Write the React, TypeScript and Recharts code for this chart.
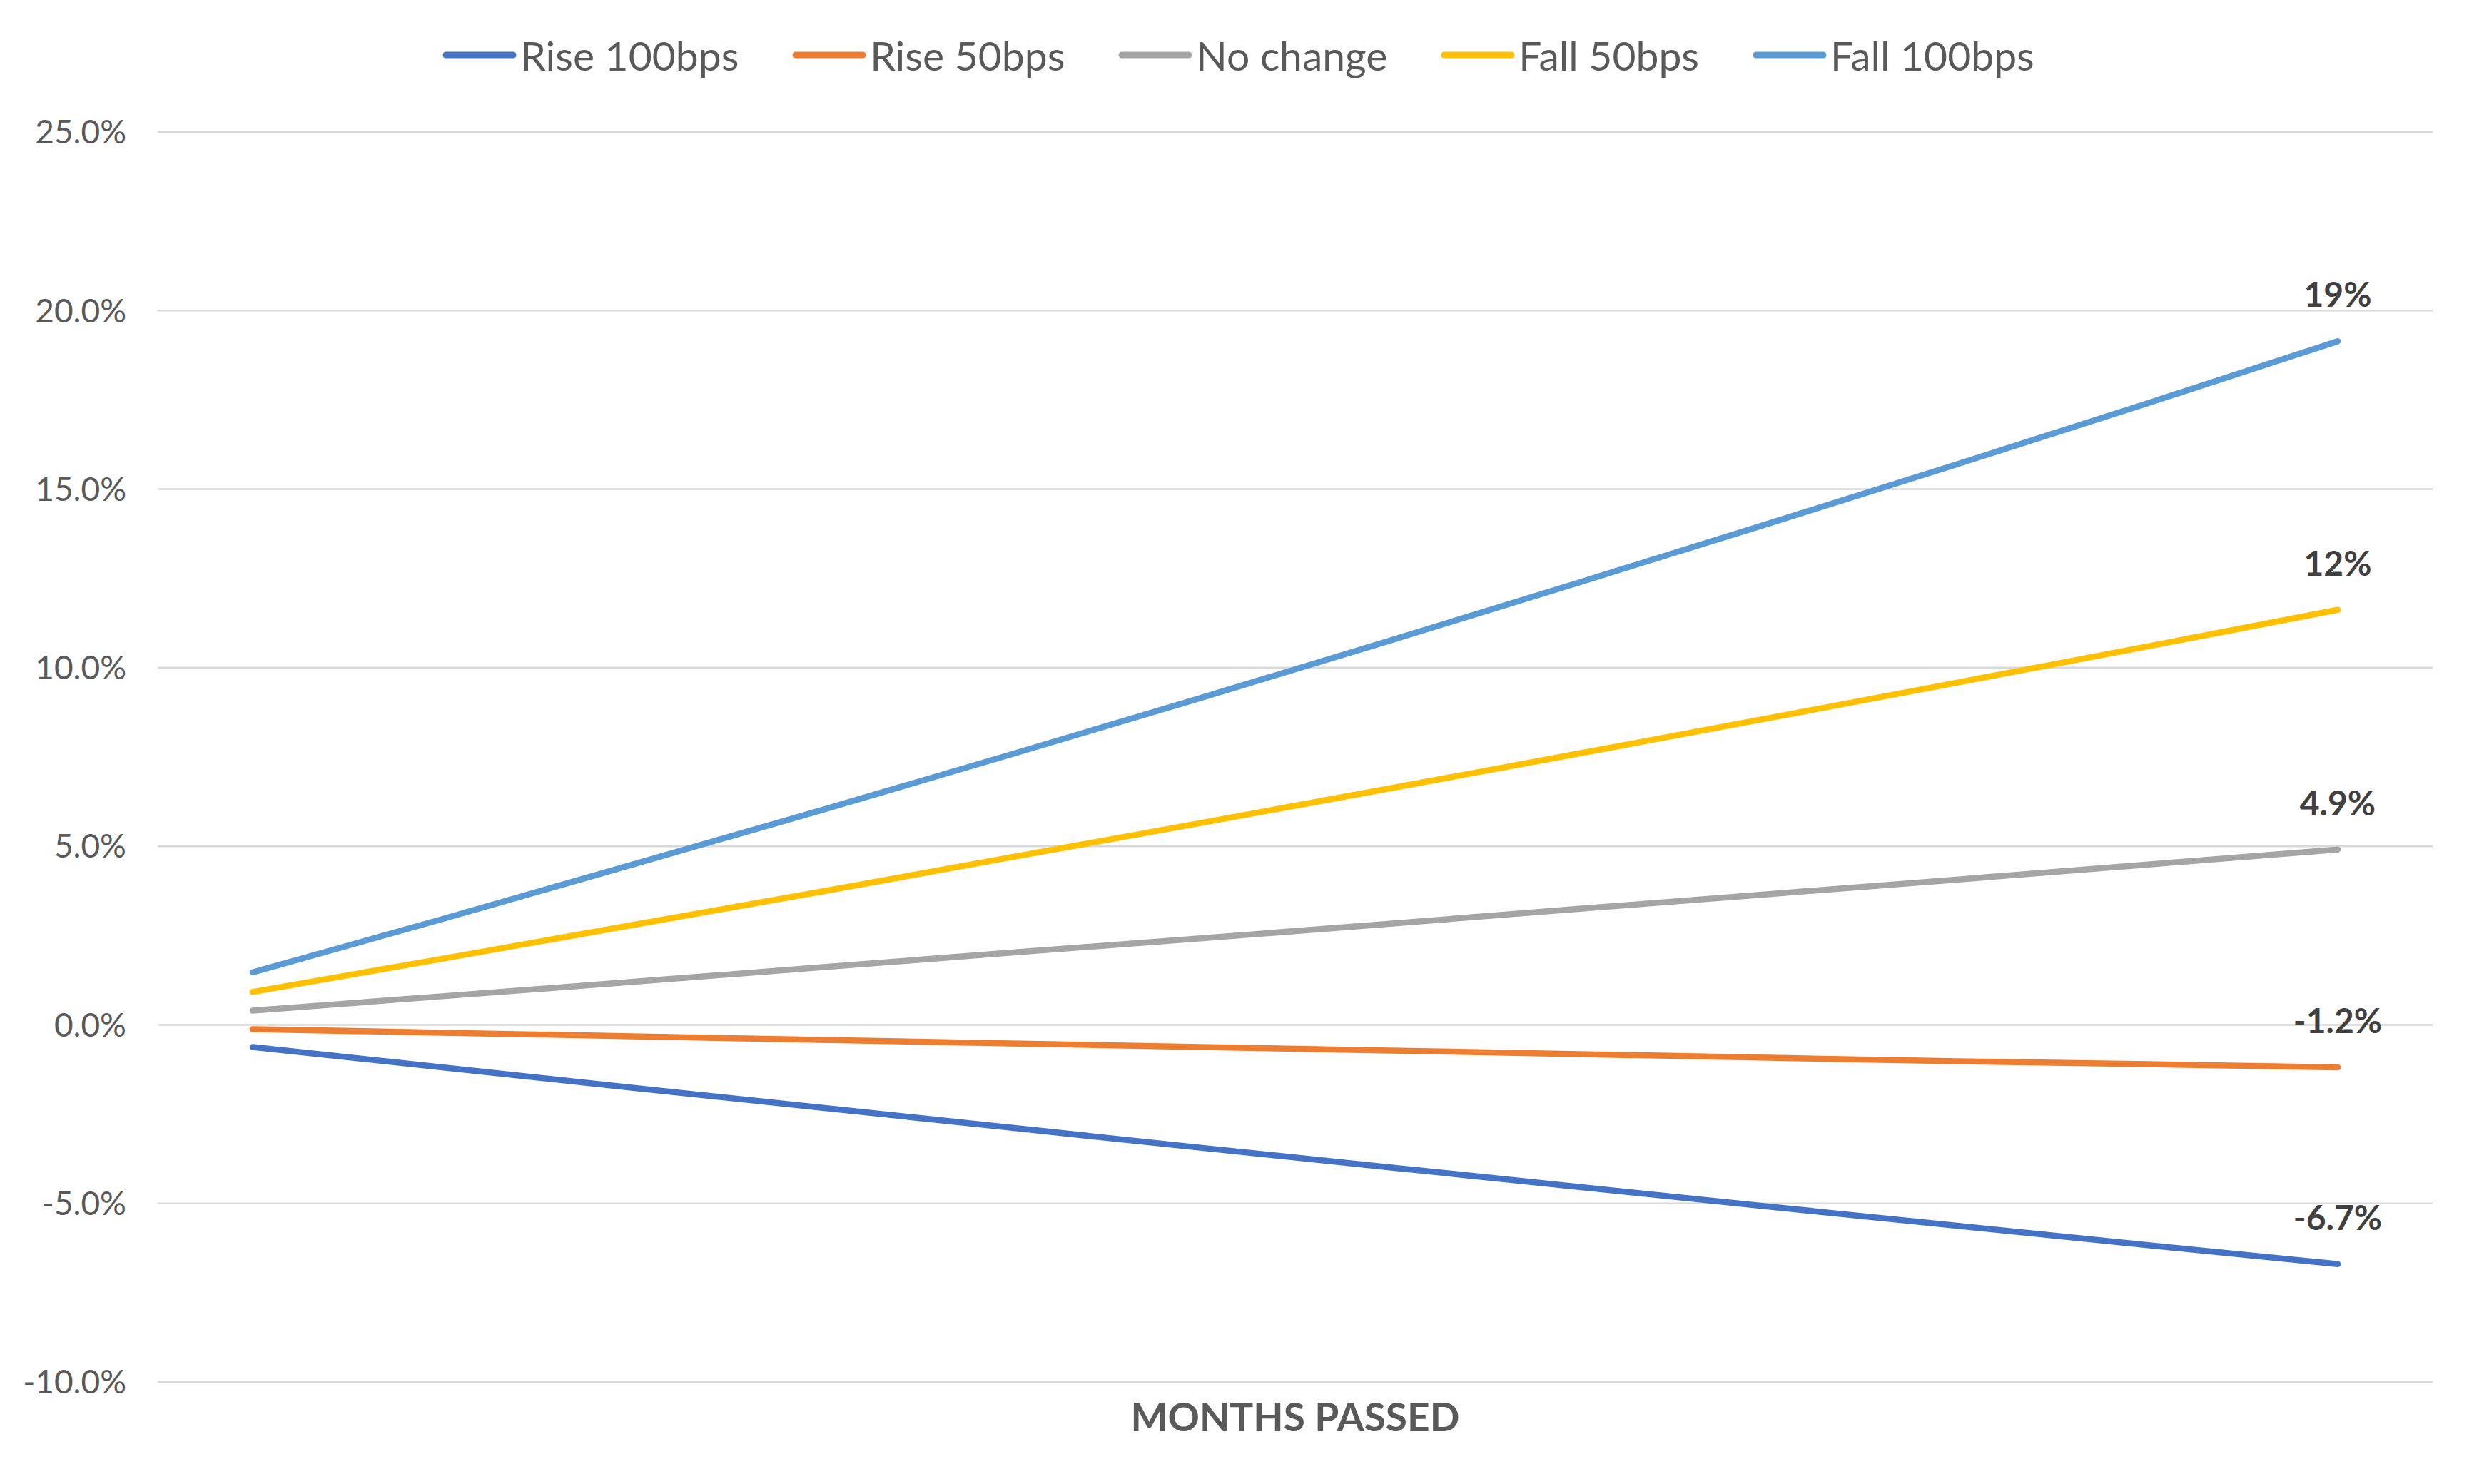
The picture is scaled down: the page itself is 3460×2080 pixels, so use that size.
import React from "react";
import {
  LineChart,
  Line,
  XAxis,
  YAxis,
  CartesianGrid,
  Legend,
} from "recharts";

const FONT = "Lato, 'Liberation Sans', sans-serif";

const MONTHS = ["1", "2", "3", "4", "5", "6", "7", "8", "9", "10", "11", "12"];

// cumulative change in % per month
const RISE_100 = [-0.62, -1.19, -1.76, -2.32, -2.88, -3.44, -3.99, -4.54, -5.09, -5.63, -6.17, -6.7];
const RISE_50 = [-0.12, -0.22, -0.32, -0.42, -0.52, -0.62, -0.72, -0.82, -0.92, -1.02, -1.1, -1.19];
const NO_CHANGE = [0.4, 0.8, 1.2, 1.61, 2.02, 2.42, 2.83, 3.25, 3.66, 4.07, 4.49, 4.91];
const FALL_50 = [0.92, 1.85, 2.79, 3.73, 4.69, 5.65, 6.62, 7.6, 8.59, 9.59, 10.6, 11.62];
const FALL_100 = [1.47, 2.96, 4.48, 6.01, 7.57, 9.15, 10.76, 12.39, 14.04, 15.71, 17.41, 19.14];

const END_LABELS = ["-6.7%", "-1.2%", "4.9%", "12%", "19%"];

const Y_TICKS = [-10, -5, 0, 5, 10, 15, 20, 25];

const SERIES = [
  { key: "rise100", name: "Rise 100bps", color: "#4472C4", values: RISE_100 },
  { key: "rise50", name: "Rise 50bps", color: "#ED7D31", values: RISE_50 },
  { key: "flat", name: "No change", color: "#A5A5A5", values: NO_CHANGE },
  { key: "fall50", name: "Fall 50bps", color: "#FFC000", values: FALL_50 },
  { key: "fall100", name: "Fall 100bps", color: "#5B9BD5", values: FALL_100 },
];

const data = MONTHS.map((m, i) => {
  const row: Record<string, string | number> = { month: m };
  SERIES.forEach((s) => {
    row[s.key] = s.values[i];
  });
  return row;
});

function renderLegend() {
  return (
    <div
      style={{
        height: 150,
        display: "flex",
        justifyContent: "center",
        alignItems: "flex-start",
        paddingTop: 6,
        paddingLeft: 62,
        boxSizing: "border-box",
        fontFamily: FONT,
        fontSize: 57,
        color: "#595959",
      }}
    >
      {SERIES.map((s, i) => (
        <div
          key={s.key}
          style={{
            display: "flex",
            alignItems: "center",
            marginLeft: i === 0 ? 0 : 75,
            height: 72,
          }}
        >
          <svg width={104} height={12} style={{ marginRight: 5 }}>
            <line x1={5} y1={6} x2={99} y2={6} stroke={s.color} strokeWidth={9} strokeLinecap="round" />
          </svg>
          <span>{s.name}</span>
        </div>
      ))}
    </div>
  );
}

function makeEndLabel(text: string) {
  return (props: any) => {
    const { x, y, index } = props;
    if (index !== MONTHS.length - 1) return null;
    return (
      <text
        x={x}
        y={y - 48}
        textAnchor="middle"
        fontFamily={FONT}
        fontWeight="bold"
        fontSize={48}
        fill="#404040"
      >
        {text}
      </text>
    );
  };
}

export default function App() {
  return (
    <div style={{ position: "absolute", left: 0, top: 0, width: 3460, height: 2080, background: "#fff" }}>
      <LineChart
        width={3460}
        height={2080}
        data={data}
        margin={{ top: 35, right: 51, bottom: 0, left: 0 }}
      >
        <CartesianGrid vertical={false} stroke="#d9d9d9" strokeWidth={2.5} />
        <XAxis
          dataKey="month"
          height={143}
          axisLine={false}
          tickLine={false}
          tick={false}
          padding={{ left: 133, right: 133 }}
          label={{
            value: "MONTHS PASSED",
            position: "insideBottom",
            offset: 74,
            fill: "#595959",
            fontFamily: FONT,
            fontWeight: "bold",
            fontSize: 55,
          }}
        />
        <YAxis
          width={221}
          domain={[-10, 25]}
          ticks={Y_TICKS}
          interval={0}
          axisLine={false}
          tickLine={false}
          tickSize={0}
          tickMargin={44}
          tickFormatter={(v: number) => `${v.toFixed(1)}%`}
          tick={{ fill: "#595959", fontFamily: FONT, fontSize: 46 }}
        />
        <Legend verticalAlign="top" content={renderLegend} />
        {SERIES.map((s, i) => (
          <Line
            key={s.key}
            type="linear"
            dataKey={s.key}
            name={s.name}
            stroke={s.color}
            strokeWidth={8.5}
            strokeLinecap="round"
            dot={false}
            activeDot={false}
            isAnimationActive={false}
            label={makeEndLabel(END_LABELS[i])}
          />
        ))}
      </LineChart>
    </div>
  );
}
